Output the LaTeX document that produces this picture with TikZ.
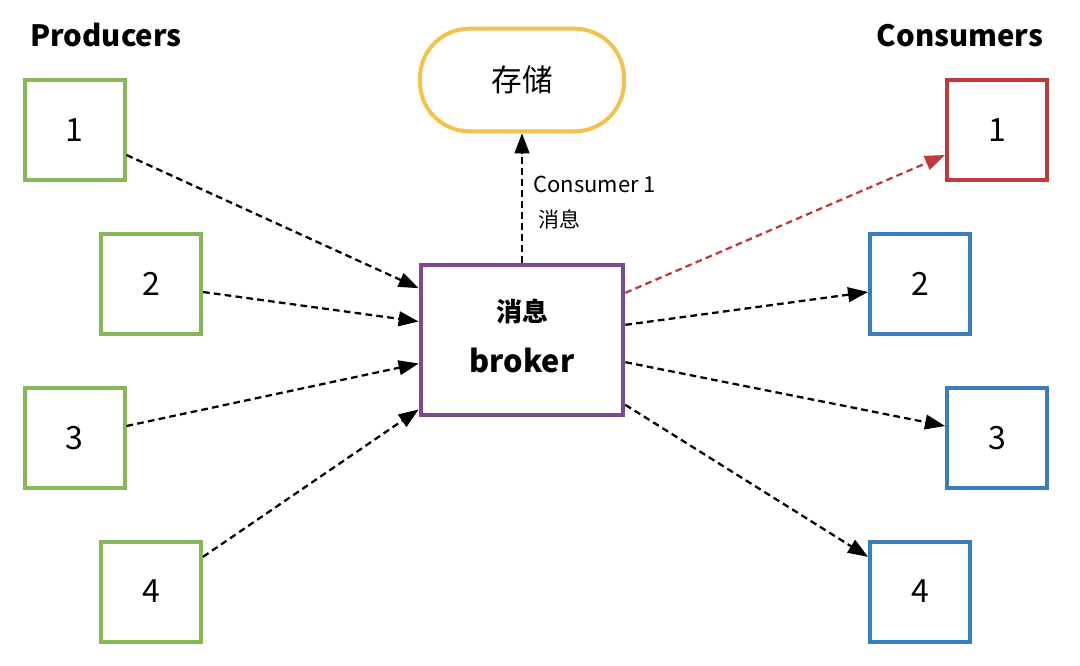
\documentclass[tikz,border=0pt]{standalone}
\usepackage{fontspec}
\setmainfont{Noto Sans CJK SC}
\usetikzlibrary{arrows.meta}
\definecolor{pgreen}{HTML}{88B75A}
\definecolor{cred}{HTML}{C0393B}
\definecolor{cblue}{HTML}{3A7DBE}
\definecolor{bpurple}{HTML}{7D4A92}
\definecolor{syellow}{HTML}{F4C24A}
\tikzset{
  box/.style={draw, line width=3pt, minimum width=75pt, minimum height=75pt, inner sep=0pt, font=\fontsize{24}{28}\selectfont},
  prod/.style={box, draw=pgreen},
  consred/.style={box, draw=cred},
  consblue/.style={box, draw=cblue},
  flow/.style={dashed, line width=1.7pt, dash pattern=on 5pt off 3.2pt, -{Triangle[length=15pt,width=11pt]}},
  title/.style={font=\fontsize{22}{26}\selectfont\bfseries, anchor=base},
}
\begin{document}
\begin{tikzpicture}[x=0.75pt,y=-0.75pt]
\useasboundingbox (0,0) rectangle (1080,665);
\node[title] (ptitle) at (106,46) {Producers};
\node[title] (ctitle) at (960,46) {Consumers};
\node[prod] (p1) at (74.5,130) {1};
\node[prod] (p2) at (151,284) {2};
\node[prod] (p3) at (74.5,438) {3};
\node[prod] (p4) at (151,591.5) {4};
\node[consred] (c1) at (997,130) {1};
\node[consblue] (c2) at (920,284) {2};
\node[consblue] (c3) at (997,438) {3};
\node[consblue] (c4) at (920,591.5) {4};
\node[draw=bpurple, line width=3pt, minimum width=152pt, minimum height=112.5pt, inner sep=0pt] (broker) at (522,339.5) {};
\node[font=\fontsize{19.5}{22}\selectfont\bfseries] (bt1) at (522,311) {消息};
\node[font=\fontsize{23}{26}\selectfont\bfseries, anchor=base] (bt2) at (522,372) {broker};
\node[draw=syellow, line width=3pt, minimum width=153pt, minimum height=77pt, rounded corners=37pt, inner sep=0pt, font=\fontsize{23}{26}\selectfont] (store) at (522,80) {存储};
\draw[flow] (broker.north) -- (store.south);
\node[anchor=base west, inner sep=0pt, font=\fontsize{16.5}{20}\selectfont] (lab1) at (533,192) {Consumer 1};
\node[anchor=base west, inner sep=0pt, font=\fontsize{15.75}{20}\selectfont] (lab2) at (538,227) {消息};
% producers to broker
\draw[flow] ([yshift=-18.75pt]p1.east) -- ([yshift=38.5pt]broker.west);
\draw[flow] ([yshift=-6pt]p2.east) -- ([yshift=13.5pt]broker.west);
\draw[flow] ([yshift=9pt]p3.east) -- ([yshift=-18pt]broker.west);
\draw[flow] ([yshift=26pt]p4.east) -- ([yshift=-52.5pt]broker.west);
% broker to consumers
\draw[flow, draw=cred, color=cred] ([yshift=35pt]broker.east) -- ([yshift=-18.75pt]c1.west);
\draw[flow] ([yshift=11pt]broker.east) -- ([yshift=-6pt]c2.west);
\draw[flow] ([yshift=-17pt]broker.east) -- ([yshift=9pt]c3.west);
\draw[flow] ([yshift=-49pt]broker.east) -- ([yshift=26pt]c4.west);
\end{tikzpicture}
\end{document}
